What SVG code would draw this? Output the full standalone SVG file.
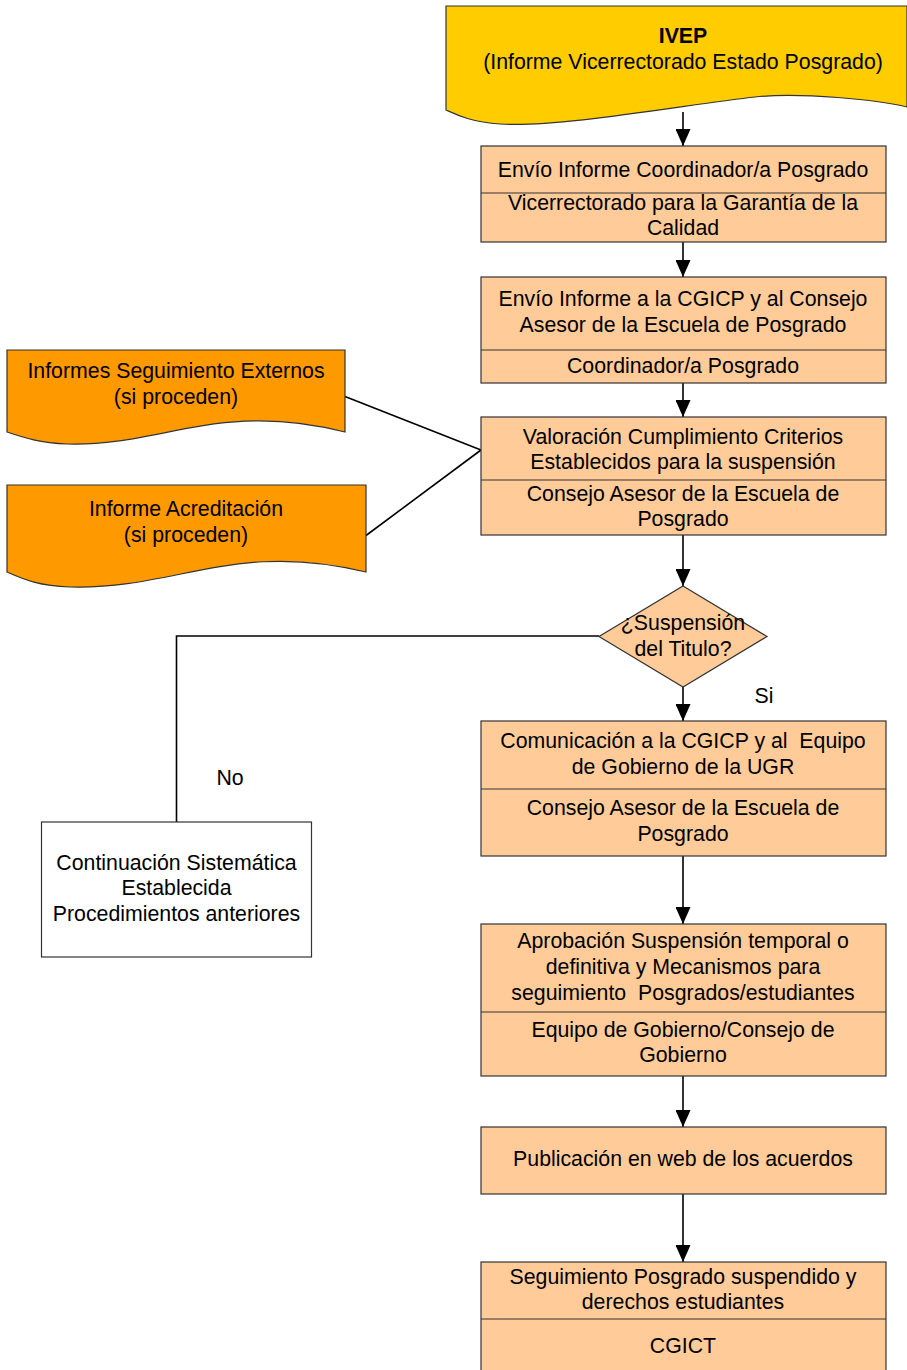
<svg xmlns="http://www.w3.org/2000/svg" width="907" height="1370" viewBox="0 0 907 1370">
<style>
  text { font-family: "Liberation Sans", Arial, sans-serif; font-size: 21.3px; fill: #000; text-anchor: middle; white-space: pre; }
  .b { font-weight: bold; }
  .box { fill: #FFCC99; stroke: #333; stroke-width: 1.2; }
  .div { stroke: #333; stroke-width: 1.2; }
  .plain { fill: #FFFFFF; stroke: #333; stroke-width: 1.2; }
  .conn { stroke: #000; stroke-width: 1.6; fill: none; }
  .arrow { marker-end: url(#arr); }
</style>
<defs>
  <marker id="arr" markerUnits="userSpaceOnUse" markerWidth="17" markerHeight="15" viewBox="0 0 17 15" refX="17" refY="7.5" orient="auto">
    <path d="M0,0 L17,7.5 L0,15 Z" fill="#000"/>
  </marker>
</defs>
<rect width="907" height="1370" fill="#FFFFFF"/>

<g id="connectors">
  <line class="conn arrow" x1="683" y1="112" x2="683" y2="146"/>
  <line class="conn arrow" x1="683" y1="242" x2="683" y2="277"/>
  <line class="conn arrow" x1="683" y1="383" x2="683" y2="417"/>
  <line class="conn arrow" x1="683" y1="535" x2="683" y2="586"/>
  <line class="conn arrow" x1="683" y1="687" x2="683" y2="721"/>
  <line class="conn arrow" x1="683" y1="856" x2="683" y2="924"/>
  <line class="conn arrow" x1="683" y1="1076" x2="683" y2="1127"/>
  <line class="conn arrow" x1="683" y1="1194" x2="683" y2="1262"/>
  <polyline class="conn" points="599,636 176.5,636 176.5,822"/>
  <line class="conn" x1="345" y1="396.5" x2="481" y2="450"/>
  <line class="conn" x1="366" y1="535.5" x2="481" y2="450"/>
  <text x="764" y="703">Si</text>
  <text x="230" y="785">No</text>
</g>

<g id="ivep">
  <path d="M446,6 H907 V107 C880,100 800,92 755,97 C690,104 560,128 500,124 C470,122 455,114 446,110 Z" fill="#FFCC00" stroke="#333" stroke-width="1.2"/>
  <text x="683" y="43" class="b">IVEP</text>
  <text x="683" y="69">(Informe Vicerrectorado Estado Posgrado)</text>
</g>

<g id="envio-coordinador">
  <rect class="box" x="481" y="146" width="405" height="96"/>
  <line class="div" x1="481" y1="193" x2="886" y2="193"/>
  <text x="683" y="177">Envío Informe Coordinador/a Posgrado</text>
  <text x="683" y="210">Vicerrectorado para la Garantía de la</text>
  <text x="683" y="235">Calidad</text>
</g>

<g id="envio-cgicp">
  <rect class="box" x="481" y="277" width="405" height="106"/>
  <line class="div" x1="481" y1="350" x2="886" y2="350"/>
  <text x="683" y="306">Envío Informe a la CGICP y al Consejo</text>
  <text x="683" y="332">Asesor de la Escuela de Posgrado</text>
  <text x="683" y="373">Coordinador/a Posgrado</text>
</g>

<g id="informes-externos">
  <path d="M7,350 H345 V432 C220,400 160,447 67,444 C40,443 25,438 7,432 Z" fill="#FF9900" stroke="#333" stroke-width="1.2"/>
  <text x="176" y="378">Informes Seguimiento Externos</text>
  <text x="176" y="404">(si proceden)</text>
</g>

<g id="informe-acreditacion">
  <path d="M7,485 H366 V572 C235,540 175,590 70,587 C40,586 25,580 7,572 Z" fill="#FF9900" stroke="#333" stroke-width="1.2"/>
  <text x="186" y="516">Informe Acreditación</text>
  <text x="186" y="542">(si proceden)</text>
</g>

<g id="valoracion">
  <rect class="box" x="481" y="417" width="405" height="118"/>
  <line class="div" x1="481" y1="480" x2="886" y2="480"/>
  <text x="683" y="444">Valoración Cumplimiento Criterios</text>
  <text x="683" y="469">Establecidos para la suspensión</text>
  <text x="683" y="501">Consejo Asesor de la Escuela de</text>
  <text x="683" y="526">Posgrado</text>
</g>

<g id="decision">
  <polygon points="683,586 767,636.5 683,687 599,636.5" fill="#FFCC99" stroke="#333" stroke-width="1.2"/>
  <text x="683" y="630">¿Suspensión</text>
  <text x="683" y="656">del Titulo?</text>
</g>

<g id="comunicacion">
  <rect class="box" x="481" y="721" width="405" height="135"/>
  <line class="div" x1="481" y1="789" x2="886" y2="789"/>
  <text x="683" y="748">Comunicación a la CGICP y al  Equipo</text>
  <text x="683" y="774">de Gobierno de la UGR</text>
  <text x="683" y="815">Consejo Asesor de la Escuela de</text>
  <text x="683" y="841">Posgrado</text>
</g>

<g id="continuacion">
  <rect class="plain" x="41.5" y="822" width="270" height="135"/>
  <text x="176.5" y="870">Continuación Sistemática</text>
  <text x="176.5" y="895">Establecida</text>
  <text x="176.5" y="921">Procedimientos anteriores</text>
</g>

<g id="aprobacion">
  <rect class="box" x="481" y="924" width="405" height="152"/>
  <line class="div" x1="481" y1="1012" x2="886" y2="1012"/>
  <text x="683" y="948">Aprobación Suspensión temporal o</text>
  <text x="683" y="974">definitiva y Mecanismos para</text>
  <text x="683" y="1000">seguimiento  Posgrados/estudiantes</text>
  <text x="683" y="1037">Equipo de Gobierno/Consejo de</text>
  <text x="683" y="1062">Gobierno</text>
</g>

<g id="publicacion">
  <rect class="box" x="481" y="1127" width="405" height="67"/>
  <text x="683" y="1166">Publicación en web de los acuerdos</text>
</g>

<g id="seguimiento">
  <rect class="box" x="481" y="1262" width="405" height="118"/>
  <line class="div" x1="481" y1="1319" x2="886" y2="1319"/>
  <text x="683" y="1284">Seguimiento Posgrado suspendido y</text>
  <text x="683" y="1309">derechos estudiantes</text>
  <text x="683" y="1353">CGICT</text>
</g>
</svg>
